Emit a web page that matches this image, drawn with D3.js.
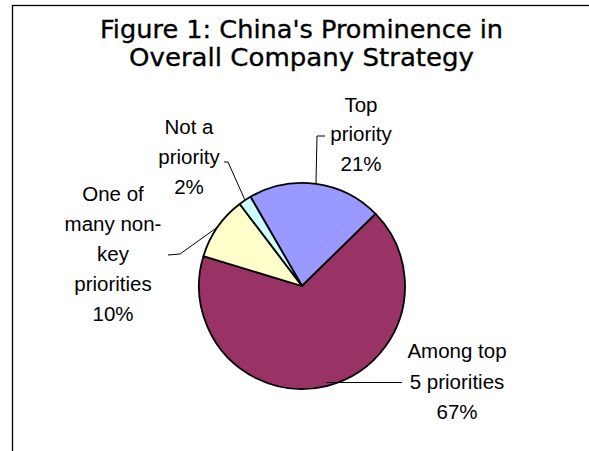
<!DOCTYPE html>
<html>
<head>
<meta charset="utf-8">
<script src="https://cdn.jsdelivr.net/npm/d3@7"></script>
<style>
  html, body { margin: 0; padding: 0; background: #fff; }
  svg { display: block; }
</style>
</head>
<body>
<svg id="chart" width="589" height="451"></svg>
<script>
// Survey answers: how prominent China is in overall company strategy
const categories = ["Top priority", "Among top 5 priorities", "One of many non-key priorities", "Not a priority"];
const shares = [21, 67, 10, 2];
const sliceColors = ["#9999FF", "#993366", "#FFFFCC", "#CCFFFF"];
// Category names as they wrap inside each slice label
const labelLines = [
  ["Top", "priority"],
  ["Among top", "5 priorities"],
  ["One of", "many non-", "key", "priorities"],
  ["Not a", "priority"]
];
const titleLines = ["Figure 1: China's Prominence in", "Overall Company Strategy"];

const svg = d3.select("#chart");

// Chart frame (runs off the right and bottom edges)
svg.append("rect")
  .attr("x", 12.5).attr("y", 5.5)
  .attr("width", 640).attr("height", 520)
  .attr("fill", "#fff")
  .attr("stroke", "#000").attr("stroke-width", 1.3);

// Title
const titleCfg = [{ y: 38, w: 403 }, { y: 66, w: 345 }];
svg.append("g").selectAll("text")
  .data(titleLines)
  .join("text")
  .attr("x", 301.5)
  .attr("y", (d, i) => titleCfg[i].y)
  .attr("text-anchor", "middle")
  .attr("font-family", "DejaVu Sans, Verdana, sans-serif")
  .attr("font-size", 25)
  .attr("textLength", (d, i) => titleCfg[i].w)
  .attr("lengthAdjust", "spacingAndGlyphs")
  .attr("fill", "#000")
  .attr("stroke", "#000")
  .attr("stroke-width", 0.35)
  .text(d => d);

// Pie
const cx = 302, cy = 286, radius = 103;
const start = -30 * Math.PI / 180;
const pie = d3.pie().sort(null).value(d => d)
  .startAngle(start).endAngle(start + 2 * Math.PI);
const arcs = pie(shares);
const arc = d3.arc().innerRadius(0).outerRadius(radius);

const g = svg.append("g").attr("transform", `translate(${cx},${cy})`);
g.selectAll("path")
  .data(arcs)
  .join("path")
  .attr("d", arc)
  .attr("fill", (d, i) => sliceColors[i])
  .attr("stroke", "#000")
  .attr("stroke-width", 1.8)
  .attr("stroke-linejoin", "round");

// Label placement: text centre, first baseline, leader elbow and end
const labelLayout = [
  { x: 361, y: 111.5, dy: 29.5, elbow: [317, 136], end: [325, 136] },
  { x: 457, y: 358, dy: 30.5, elbow: [330, 382.5], end: [402, 382.5] },
  { x: 113, y: 200.5, dy: 30, elbow: [180, 254], end: [168, 255] },
  { x: 189, y: 134, dy: 30, elbow: [228, 162], end: [224, 162] }
];

// Point on the rim at the middle of each slice
function rimPoint(d) {
  const a = (d.startAngle + d.endAngle) / 2;
  return [cx + radius * Math.sin(a), cy - radius * Math.cos(a)];
}

const leaders = svg.append("g")
  .attr("fill", "none").attr("stroke", "#000").attr("stroke-width", 1);
arcs.forEach((d, i) => {
  const L = labelLayout[i];
  const p = rimPoint(d);
  const pts = i === 1 ? [[p[0], L.end[1]], L.end] : [p, L.elbow, L.end];
  leaders.append("path").attr("d", d3.line()(pts));
});

const labels = svg.append("g")
  .attr("font-family", "Liberation Sans, Arial, sans-serif")
  .attr("font-size", 20.5)
  .attr("fill", "#000")
  .attr("text-anchor", "middle");
arcs.forEach((d, i) => {
  const L = labelLayout[i];
  const lines = labelLines[i].concat([shares[i] + "%"]);
  labels.append("g").selectAll("text")
    .data(lines)
    .join("text")
    .attr("x", L.x)
    .attr("y", (t, k) => L.y + k * L.dy)
    .text(t => t);
});
</script>
</body>
</html>
